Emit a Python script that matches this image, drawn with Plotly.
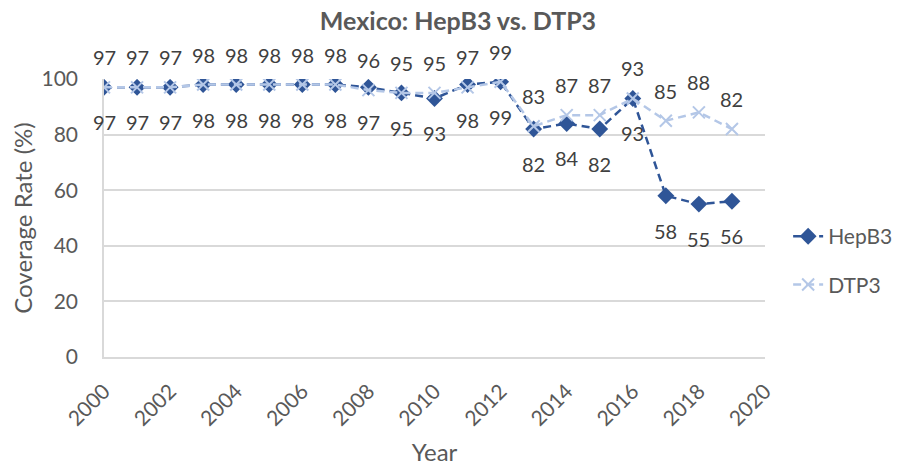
import plotly.graph_objects as go

years = list(range(2000, 2020))
hepb3 = [97, 97, 97, 98, 98, 98, 98, 98, 97, 95, 93, 98, 99, 82, 84, 82, 93, 58, 55, 56]
dtp3 = [97, 97, 97, 98, 98, 98, 98, 98, 96, 95, 95, 97, 99, 83, 87, 87, 93, 85, 88, 82]
x_ticks = list(range(2000, 2021, 2))
y_ticks = [0, 20, 40, 60, 80, 100]

FONT = "Lato, Open Sans, sans-serif"
DARK = "#2F5597"
LIGHT = "#B4C7E7"
GRID = "#D9D9D9"
TXT = "#595959"

fig = go.Figure()
fig.add_trace(go.Scatter(
    x=years, y=hepb3, name="HepB3", mode="lines+markers", legendgroup="a",
    line=dict(color=DARK, width=2.5, dash="8px,5px"),
    marker=dict(symbol="diamond", size=13, color=DARK),
))
fig.add_trace(go.Scatter(
    x=years, y=dtp3, name="DTP3", mode="lines+markers", legendgroup="b",
    line=dict(color=LIGHT, width=2.5, dash="8px,5px"),
    marker=dict(symbol="x-thin", size=12, color=LIGHT, line=dict(color=LIGHT, width=2)),
))

annotations = []
for x, v in zip(years, dtp3):
    annotations.append(dict(x=x, y=v, text=str(v), showarrow=False, yshift=30,
                            font=dict(family=FONT, size=20, color="#404040")))
for x, v in zip(years, hepb3):
    annotations.append(dict(x=x, y=v, text=str(v), showarrow=False, yshift=-35,
                            font=dict(family=FONT, size=20, color="#404040")))

fig.update_layout(
    width=900, height=458,
    paper_bgcolor="white", plot_bgcolor="white",
    margin=dict(l=96, r=143, t=71, b=109, autoexpand=False),
    font=dict(family=FONT, size=21, color=TXT),
    title=dict(text="<b>Mexico: HepB3 vs. DTP3</b>", x=0.5, xanchor="center",
               y=1, yanchor="top", pad=dict(t=4),
               font=dict(family=FONT, size=25, color=TXT)),
    annotations=annotations,
    showlegend=True,
    legend=dict(x=1.035, xanchor="left", y=0.347, yanchor="middle",
                font=dict(family=FONT, size=21, color=TXT),
                tracegroupgap=18, bgcolor="rgba(0,0,0,0)"),
    xaxis=dict(range=[2000, 2020], tickvals=x_ticks, ticktext=[str(t) for t in x_ticks],
               tickangle=-45, showgrid=False, zeroline=False,
               showline=True, linecolor=GRID, linewidth=1.5,
               ticks="", ticklabelstandoff=12, tickfont=dict(size=21, color=TXT),
               title=dict(text="Year", font=dict(size=24, color=TXT), standoff=18)),
    yaxis=dict(range=[0, 100], tickvals=y_ticks,
               showgrid=True, gridcolor=GRID, gridwidth=1.5, zeroline=False,
               showline=True, linecolor=GRID, linewidth=1.5,
               ticks="", ticklabelstandoff=20, tickfont=dict(size=21, color=TXT),
               title=dict(text="Coverage Rate (%)", font=dict(size=24, color=TXT), standoff=12)),
)

fig.write_html("out.html")
